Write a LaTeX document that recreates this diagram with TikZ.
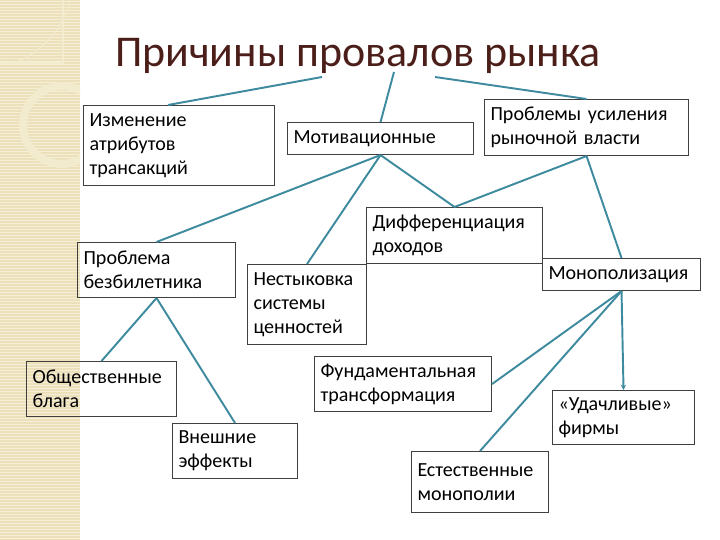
\documentclass[tikz,border=0pt]{standalone}
\usepackage{fontspec}
\setmainfont{Carlito}
\usepackage{tikz}
\usetikzlibrary{calc}
\usetikzlibrary{arrows.meta}
\definecolor{titlered}{RGB}{75,30,25}
\definecolor{linkblue}{RGB}{62,138,158}
\definecolor{stripbg}{RGB}{236,224,186}
\definecolor{stripline}{RGB}{246,239,216}
\definecolor{stripdeco}{RGB}{243,235,206}
\tikzstyle{title} = [font=\fontsize{25}{30}\selectfont, text=titlered, anchor=base, inner sep=0pt]
\tikzstyle{box} = [rectangle, draw=black!75, line width=.6pt, anchor=north west, align=left, inner xsep=.12cm, inner ysep=0pt, font=\fontsize{11.4}{13.7}\selectfont]
\tikzstyle{link} = [linkblue, line width=1.1pt]
\tikzstyle{arrow} = [link, -{Stealth[length=3pt,width=3pt]}]

\begin{document}
\begin{tikzpicture}[y=-1cm]
    \useasboundingbox (0,0) rectangle (14.4,10.8);
    \begin{scope}
        \clip (0,0) rectangle (1.6,10.8);
        \fill[stripbg] (0,0) rectangle (1.6,10.8);
        \foreach \y in {0.03,0.09,...,10.8}
            \draw[stripline, line width=.6pt] (0,\y) -- (1.6,\y);
        \draw[stripdeco, line width=.16cm] (1.24,2.5) circle (.78);
        \draw[stripdeco, line width=.6pt] (0,1.26) -- (1.26,1.26) -- (1.26,0);
        \draw[stripdeco, line width=.6pt] (.3,1.26) .. controls (.9,1.0) and (1.3,.5) .. (1.4,0);
    \end{scope}

    \node (title) [title] at (7.16,1.34) {Причины провалов рынка};
    \coordinate (t1) at (6.44,1.54);
    \coordinate (t2) at (7.88,1.44);
    \coordinate (t3) at (8.70,1.54);

    \node (izm) [box, text width=3.58cm, minimum height=1.6cm] at (1.66,2.1) {Изменение\\атрибутов\\трансакций};
    \node (mot) [box, text width=3.48cm, minimum height=.64cm] at (5.74,2.44) {Мотивационные};
    \node (power) [box, text width=3.84cm, minimum height=1.12cm] at (9.68,1.98) {Проблемы усиления\\рыночной власти};
    \node (diff) [box, text width=3.28cm, minimum height=1.12cm] at (7.32,4.14) {Дифференциация\\доходов};
    \node (mono) [box, text width=2.92cm, minimum height=.64cm] at (10.84,5.16) {Монополизация};
    \node (free) [box, text width=2.92cm, minimum height=1.1cm] at (1.54,4.84) {Проблема\\безбилетника};
    \node (mism) [box, text width=2.14cm, minimum height=1.6cm] at (4.94,5.28) {Нестыковка\\системы\\ценностей};
    \node (pub) [box, text width=2.76cm, minimum height=1.1cm] at (.52,7.22) {Общественные\\блага};
    \node (ext) [box, text width=2.26cm, minimum height=1.1cm] at (3.44,8.46) {Внешние\\эффекты};
    \node (fund) [box, text width=3.30cm, minimum height=1.1cm] at (6.28,7.12) {Фундаментальная\\трансформация};
    \node (lucky) [box, text width=2.60cm, minimum height=1.08cm] at (11.04,7.8) {«Удачливые»\\фирмы};
    \node (natmon) [box, text width=2.50cm, minimum height=1.22cm] at (8.22,9.02) {Естественные\\монополии};

    \draw [link] (t1) -- ($(izm.north)+(-.22,0)$);
    \draw [link] (t2) -- (mot.north);
    \draw [link] (t3) -- (power.north);
    \draw [link] (mot.south) -- (free.north);
    \draw [link] (mot.south) -- (mism.north);
    \draw [link] (mot.south) -- (diff.north);
    \draw [link] (power.south) -- (diff.north);
    \draw [link] (power.south) -- (mono.north);
    \draw [link] (mono.south) -- (fund.east);
    \draw [link] (mono.south) -- (natmon.north);
    \draw [arrow] (mono.south) -- (lucky.north);
    \draw [link] (free.south) -- (pub.north);
    \draw [link] (free.south) -- (ext.north);
\end{tikzpicture}
\end{document}
